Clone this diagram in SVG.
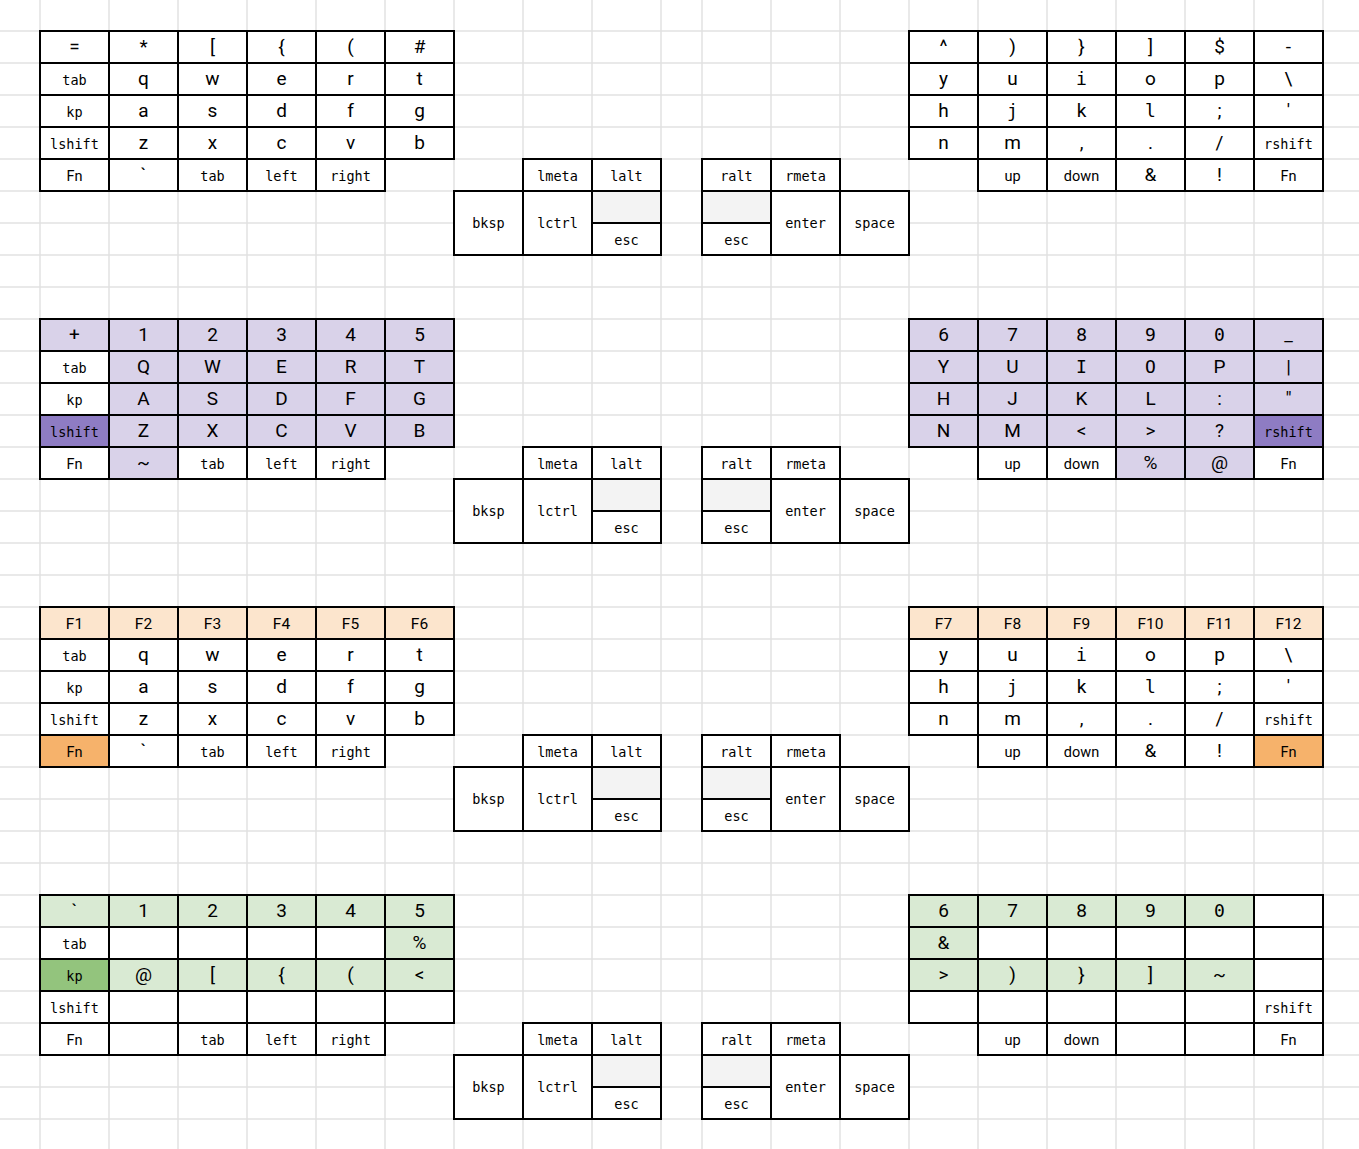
<svg xmlns="http://www.w3.org/2000/svg" width="1359" height="1149" viewBox="0 0 1359 1149">
<style>
.k{fill:#fff;stroke:#000;stroke-width:2}
.pl{fill:#d9d2e9}.pd{fill:#8e7cc3}.ol{fill:#fce5cd}.od{fill:#f6b26b}.gl{fill:#d9ead3}.gd{fill:#93c47d}.gy{fill:#f3f3f3}
text{text-anchor:middle;fill:#000}
.c{font-family:Roboto,"Liberation Sans",sans-serif;font-size:19px}
.m{font-family:"DejaVu Sans Mono","Liberation Mono",monospace;font-size:18px}
.w{font-family:"DejaVu Sans Mono","Liberation Mono",monospace;font-size:13.5px}
.r{font-family:Roboto,"Liberation Sans",sans-serif;font-size:14.5px}
.f{font-family:Roboto,"Liberation Sans",sans-serif;font-size:15.5px}
.grid{stroke:#e2e2e2;stroke-width:1.5;fill:none}
</style>
<rect width="1359" height="1149" fill="#fff"/>
<path class="grid" d="M40 0V1149M109 0V1149M178 0V1149M247 0V1149M316 0V1149M385 0V1149M454 0V1149M523 0V1149M592 0V1149M661 0V1149M702 0V1149M771 0V1149M840 0V1149M909 0V1149M978 0V1149M1047 0V1149M1116 0V1149M1185 0V1149M1254 0V1149M1323 0V1149M0 31H1359M0 63H1359M0 95H1359M0 127H1359M0 159H1359M0 191H1359M0 223H1359M0 255H1359M0 287H1359M0 319H1359M0 351H1359M0 383H1359M0 415H1359M0 447H1359M0 479H1359M0 511H1359M0 543H1359M0 575H1359M0 607H1359M0 639H1359M0 671H1359M0 703H1359M0 735H1359M0 767H1359M0 799H1359M0 831H1359M0 863H1359M0 895H1359M0 927H1359M0 959H1359M0 991H1359M0 1023H1359M0 1055H1359M0 1087H1359M0 1119H1359"/>
<g id="connectors"/>

<!-- Layer 1 -->
<g id="layer1">
<g id="l1-L00"><rect x="40" y="31" width="69" height="32" class="k"/><text x="74.5" y="53" class="c">=</text></g>
<g id="l1-L01"><rect x="109" y="31" width="69" height="32" class="k"/><text x="143.5" y="53" class="c">*</text></g>
<g id="l1-L02"><rect x="178" y="31" width="69" height="32" class="k"/><text x="212.5" y="53" class="c">[</text></g>
<g id="l1-L03"><rect x="247" y="31" width="69" height="32" class="k"/><text x="281.5" y="53" class="c">{</text></g>
<g id="l1-L04"><rect x="316" y="31" width="69" height="32" class="k"/><text x="350.5" y="53" class="c">(</text></g>
<g id="l1-L05"><rect x="385" y="31" width="69" height="32" class="k"/><text x="419.5" y="53" class="c">#</text></g>
<g id="l1-L10"><rect x="40" y="63" width="69" height="32" class="k"/><text x="74.5" y="84.5" class="w">tab</text></g>
<g id="l1-L11"><rect x="109" y="63" width="69" height="32" class="k"/><text x="143.5" y="85" class="c">q</text></g>
<g id="l1-L12"><rect x="178" y="63" width="69" height="32" class="k"/><text x="212.5" y="85" class="c">w</text></g>
<g id="l1-L13"><rect x="247" y="63" width="69" height="32" class="k"/><text x="281.5" y="85" class="c">e</text></g>
<g id="l1-L14"><rect x="316" y="63" width="69" height="32" class="k"/><text x="350.5" y="85" class="c">r</text></g>
<g id="l1-L15"><rect x="385" y="63" width="69" height="32" class="k"/><text x="419.5" y="85" class="c">t</text></g>
<g id="l1-L20"><rect x="40" y="95" width="69" height="32" class="k"/><text x="74.5" y="116.5" class="w">kp</text></g>
<g id="l1-L21"><rect x="109" y="95" width="69" height="32" class="k"/><text x="143.5" y="117" class="c">a</text></g>
<g id="l1-L22"><rect x="178" y="95" width="69" height="32" class="k"/><text x="212.5" y="117" class="c">s</text></g>
<g id="l1-L23"><rect x="247" y="95" width="69" height="32" class="k"/><text x="281.5" y="117" class="c">d</text></g>
<g id="l1-L24"><rect x="316" y="95" width="69" height="32" class="k"/><text x="350.5" y="117" class="c">f</text></g>
<g id="l1-L25"><rect x="385" y="95" width="69" height="32" class="k"/><text x="419.5" y="117" class="c">g</text></g>
<g id="l1-L30"><rect x="40" y="127" width="69" height="32" class="k"/><text x="74.5" y="148.5" class="w">lshift</text></g>
<g id="l1-L31"><rect x="109" y="127" width="69" height="32" class="k"/><text x="143.5" y="149" class="c">z</text></g>
<g id="l1-L32"><rect x="178" y="127" width="69" height="32" class="k"/><text x="212.5" y="149" class="c">x</text></g>
<g id="l1-L33"><rect x="247" y="127" width="69" height="32" class="k"/><text x="281.5" y="149" class="c">c</text></g>
<g id="l1-L34"><rect x="316" y="127" width="69" height="32" class="k"/><text x="350.5" y="149" class="c">v</text></g>
<g id="l1-L35"><rect x="385" y="127" width="69" height="32" class="k"/><text x="419.5" y="149" class="c">b</text></g>
<g id="l1-L40"><rect x="40" y="159" width="69" height="32" class="k"/><text x="74.5" y="180.5" class="r">Fn</text></g>
<g id="l1-L41"><rect x="109" y="159" width="69" height="32" class="k"/><text x="143.5" y="181" class="c">`</text></g>
<g id="l1-L42"><rect x="178" y="159" width="69" height="32" class="k"/><text x="212.5" y="180.5" class="w">tab</text></g>
<g id="l1-L43"><rect x="247" y="159" width="69" height="32" class="k"/><text x="281.5" y="180.5" class="w">left</text></g>
<g id="l1-L44"><rect x="316" y="159" width="69" height="32" class="k"/><text x="350.5" y="180.5" class="w">right</text></g>
<g id="l1-lmeta"><rect x="523" y="159" width="69" height="32" class="k"/><text x="557.5" y="180.5" class="w">lmeta</text></g>
<g id="l1-lalt"><rect x="592" y="159" width="69" height="32" class="k"/><text x="626.5" y="180.5" class="w">lalt</text></g>
<g id="l1-bksp"><rect x="454" y="191" width="69" height="64" class="k"/><text x="488.5" y="228" class="w">bksp</text></g>
<g id="l1-lctrl"><rect x="523" y="191" width="69" height="64" class="k"/><text x="557.5" y="228" class="w">lctrl</text></g>
<g id="l1-lblank"><rect x="592" y="191" width="69" height="32" class="k gy"/></g>
<g id="l1-lesc"><rect x="592" y="223" width="69" height="32" class="k"/><text x="626.5" y="244.5" class="w">esc</text></g>
<g id="l1-ralt"><rect x="702" y="159" width="69" height="32" class="k"/><text x="736.5" y="180.5" class="w">ralt</text></g>
<g id="l1-rmeta"><rect x="771" y="159" width="69" height="32" class="k"/><text x="805.5" y="180.5" class="w">rmeta</text></g>
<g id="l1-rblank"><rect x="702" y="191" width="69" height="32" class="k gy"/></g>
<g id="l1-resc"><rect x="702" y="223" width="69" height="32" class="k"/><text x="736.5" y="244.5" class="w">esc</text></g>
<g id="l1-enter"><rect x="771" y="191" width="69" height="64" class="k"/><text x="805.5" y="228" class="w">enter</text></g>
<g id="l1-space"><rect x="840" y="191" width="69" height="64" class="k"/><text x="874.5" y="228" class="w">space</text></g>
<g id="l1-R00"><rect x="909" y="31" width="69" height="32" class="k"/><text x="943.5" y="53" class="c">^</text></g>
<g id="l1-R01"><rect x="978" y="31" width="69" height="32" class="k"/><text x="1012.5" y="53" class="c">)</text></g>
<g id="l1-R02"><rect x="1047" y="31" width="69" height="32" class="k"/><text x="1081.5" y="53" class="c">}</text></g>
<g id="l1-R03"><rect x="1116" y="31" width="69" height="32" class="k"/><text x="1150.5" y="53" class="c">]</text></g>
<g id="l1-R04"><rect x="1185" y="31" width="69" height="32" class="k"/><text x="1219.5" y="53" class="c">$</text></g>
<g id="l1-R05"><rect x="1254" y="31" width="69" height="32" class="k"/><text x="1288.5" y="53" class="c">-</text></g>
<g id="l1-R10"><rect x="909" y="63" width="69" height="32" class="k"/><text x="943.5" y="85" class="c">y</text></g>
<g id="l1-R11"><rect x="978" y="63" width="69" height="32" class="k"/><text x="1012.5" y="85" class="c">u</text></g>
<g id="l1-R12"><rect x="1047" y="63" width="69" height="32" class="k"/><text x="1081.5" y="85" class="m">i</text></g>
<g id="l1-R13"><rect x="1116" y="63" width="69" height="32" class="k"/><text x="1150.5" y="85" class="c">o</text></g>
<g id="l1-R14"><rect x="1185" y="63" width="69" height="32" class="k"/><text x="1219.5" y="85" class="c">p</text></g>
<g id="l1-R15"><rect x="1254" y="63" width="69" height="32" class="k"/><text x="1288.5" y="85" class="c">\</text></g>
<g id="l1-R20"><rect x="909" y="95" width="69" height="32" class="k"/><text x="943.5" y="117" class="c">h</text></g>
<g id="l1-R21"><rect x="978" y="95" width="69" height="32" class="k"/><text x="1012.5" y="117" class="m">j</text></g>
<g id="l1-R22"><rect x="1047" y="95" width="69" height="32" class="k"/><text x="1081.5" y="117" class="c">k</text></g>
<g id="l1-R23"><rect x="1116" y="95" width="69" height="32" class="k"/><text x="1150.5" y="117" class="m">l</text></g>
<g id="l1-R24"><rect x="1185" y="95" width="69" height="32" class="k"/><text x="1219.5" y="117" class="c">;</text></g>
<g id="l1-R25"><rect x="1254" y="95" width="69" height="32" class="k"/><text x="1288.5" y="117" class="c">'</text></g>
<g id="l1-R30"><rect x="909" y="127" width="69" height="32" class="k"/><text x="943.5" y="149" class="c">n</text></g>
<g id="l1-R31"><rect x="978" y="127" width="69" height="32" class="k"/><text x="1012.5" y="149" class="c">m</text></g>
<g id="l1-R32"><rect x="1047" y="127" width="69" height="32" class="k"/><text x="1081.5" y="149" class="c">,</text></g>
<g id="l1-R33"><rect x="1116" y="127" width="69" height="32" class="k"/><text x="1150.5" y="149" class="c">.</text></g>
<g id="l1-R34"><rect x="1185" y="127" width="69" height="32" class="k"/><text x="1219.5" y="149" class="c">/</text></g>
<g id="l1-R35"><rect x="1254" y="127" width="69" height="32" class="k"/><text x="1288.5" y="148.5" class="w">rshift</text></g>
<g id="l1-R41"><rect x="978" y="159" width="69" height="32" class="k"/><text x="1012.5" y="180.5" class="r">up</text></g>
<g id="l1-R42"><rect x="1047" y="159" width="69" height="32" class="k"/><text x="1081.5" y="180.5" class="r">down</text></g>
<g id="l1-R43"><rect x="1116" y="159" width="69" height="32" class="k"/><text x="1150.5" y="181" class="c">&amp;</text></g>
<g id="l1-R44"><rect x="1185" y="159" width="69" height="32" class="k"/><text x="1219.5" y="181" class="c">!</text></g>
<g id="l1-R45"><rect x="1254" y="159" width="69" height="32" class="k"/><text x="1288.5" y="180.5" class="r">Fn</text></g>
</g>

<!-- Layer 2 -->
<g id="layer2" transform="translate(0,288)">
<g id="l2-L00"><rect x="40" y="31" width="69" height="32" class="k pl"/><text x="74.5" y="53" class="c">+</text></g>
<g id="l2-L01"><rect x="109" y="31" width="69" height="32" class="k pl"/><text x="143.5" y="53" class="c">1</text></g>
<g id="l2-L02"><rect x="178" y="31" width="69" height="32" class="k pl"/><text x="212.5" y="53" class="c">2</text></g>
<g id="l2-L03"><rect x="247" y="31" width="69" height="32" class="k pl"/><text x="281.5" y="53" class="c">3</text></g>
<g id="l2-L04"><rect x="316" y="31" width="69" height="32" class="k pl"/><text x="350.5" y="53" class="c">4</text></g>
<g id="l2-L05"><rect x="385" y="31" width="69" height="32" class="k pl"/><text x="419.5" y="53" class="c">5</text></g>
<g id="l2-L10"><rect x="40" y="63" width="69" height="32" class="k"/><text x="74.5" y="84.5" class="w">tab</text></g>
<g id="l2-L11"><rect x="109" y="63" width="69" height="32" class="k pl"/><text x="143.5" y="85" class="c">Q</text></g>
<g id="l2-L12"><rect x="178" y="63" width="69" height="32" class="k pl"/><text x="212.5" y="85" class="c">W</text></g>
<g id="l2-L13"><rect x="247" y="63" width="69" height="32" class="k pl"/><text x="281.5" y="85" class="c">E</text></g>
<g id="l2-L14"><rect x="316" y="63" width="69" height="32" class="k pl"/><text x="350.5" y="85" class="c">R</text></g>
<g id="l2-L15"><rect x="385" y="63" width="69" height="32" class="k pl"/><text x="419.5" y="85" class="c">T</text></g>
<g id="l2-L20"><rect x="40" y="95" width="69" height="32" class="k"/><text x="74.5" y="116.5" class="w">kp</text></g>
<g id="l2-L21"><rect x="109" y="95" width="69" height="32" class="k pl"/><text x="143.5" y="117" class="c">A</text></g>
<g id="l2-L22"><rect x="178" y="95" width="69" height="32" class="k pl"/><text x="212.5" y="117" class="c">S</text></g>
<g id="l2-L23"><rect x="247" y="95" width="69" height="32" class="k pl"/><text x="281.5" y="117" class="c">D</text></g>
<g id="l2-L24"><rect x="316" y="95" width="69" height="32" class="k pl"/><text x="350.5" y="117" class="c">F</text></g>
<g id="l2-L25"><rect x="385" y="95" width="69" height="32" class="k pl"/><text x="419.5" y="117" class="c">G</text></g>
<g id="l2-L30"><rect x="40" y="127" width="69" height="32" class="k pd"/><text x="74.5" y="148.5" class="w">lshift</text></g>
<g id="l2-L31"><rect x="109" y="127" width="69" height="32" class="k pl"/><text x="143.5" y="149" class="c">Z</text></g>
<g id="l2-L32"><rect x="178" y="127" width="69" height="32" class="k pl"/><text x="212.5" y="149" class="c">X</text></g>
<g id="l2-L33"><rect x="247" y="127" width="69" height="32" class="k pl"/><text x="281.5" y="149" class="c">C</text></g>
<g id="l2-L34"><rect x="316" y="127" width="69" height="32" class="k pl"/><text x="350.5" y="149" class="c">V</text></g>
<g id="l2-L35"><rect x="385" y="127" width="69" height="32" class="k pl"/><text x="419.5" y="149" class="c">B</text></g>
<g id="l2-L40"><rect x="40" y="159" width="69" height="32" class="k"/><text x="74.5" y="180.5" class="r">Fn</text></g>
<g id="l2-L41"><rect x="109" y="159" width="69" height="32" class="k pl"/><text x="143.5" y="181" class="c">~</text></g>
<g id="l2-L42"><rect x="178" y="159" width="69" height="32" class="k"/><text x="212.5" y="180.5" class="w">tab</text></g>
<g id="l2-L43"><rect x="247" y="159" width="69" height="32" class="k"/><text x="281.5" y="180.5" class="w">left</text></g>
<g id="l2-L44"><rect x="316" y="159" width="69" height="32" class="k"/><text x="350.5" y="180.5" class="w">right</text></g>
<g id="l2-lmeta"><rect x="523" y="159" width="69" height="32" class="k"/><text x="557.5" y="180.5" class="w">lmeta</text></g>
<g id="l2-lalt"><rect x="592" y="159" width="69" height="32" class="k"/><text x="626.5" y="180.5" class="w">lalt</text></g>
<g id="l2-bksp"><rect x="454" y="191" width="69" height="64" class="k"/><text x="488.5" y="228" class="w">bksp</text></g>
<g id="l2-lctrl"><rect x="523" y="191" width="69" height="64" class="k"/><text x="557.5" y="228" class="w">lctrl</text></g>
<g id="l2-lblank"><rect x="592" y="191" width="69" height="32" class="k gy"/></g>
<g id="l2-lesc"><rect x="592" y="223" width="69" height="32" class="k"/><text x="626.5" y="244.5" class="w">esc</text></g>
<g id="l2-ralt"><rect x="702" y="159" width="69" height="32" class="k"/><text x="736.5" y="180.5" class="w">ralt</text></g>
<g id="l2-rmeta"><rect x="771" y="159" width="69" height="32" class="k"/><text x="805.5" y="180.5" class="w">rmeta</text></g>
<g id="l2-rblank"><rect x="702" y="191" width="69" height="32" class="k gy"/></g>
<g id="l2-resc"><rect x="702" y="223" width="69" height="32" class="k"/><text x="736.5" y="244.5" class="w">esc</text></g>
<g id="l2-enter"><rect x="771" y="191" width="69" height="64" class="k"/><text x="805.5" y="228" class="w">enter</text></g>
<g id="l2-space"><rect x="840" y="191" width="69" height="64" class="k"/><text x="874.5" y="228" class="w">space</text></g>
<g id="l2-R00"><rect x="909" y="31" width="69" height="32" class="k pl"/><text x="943.5" y="53" class="c">6</text></g>
<g id="l2-R01"><rect x="978" y="31" width="69" height="32" class="k pl"/><text x="1012.5" y="53" class="c">7</text></g>
<g id="l2-R02"><rect x="1047" y="31" width="69" height="32" class="k pl"/><text x="1081.5" y="53" class="c">8</text></g>
<g id="l2-R03"><rect x="1116" y="31" width="69" height="32" class="k pl"/><text x="1150.5" y="53" class="m">9</text></g>
<g id="l2-R04"><rect x="1185" y="31" width="69" height="32" class="k pl"/><text x="1219.5" y="53" class="m">0</text></g>
<g id="l2-R05"><rect x="1254" y="31" width="69" height="32" class="k pl"/><text x="1288.5" y="53" class="c">_</text></g>
<g id="l2-R10"><rect x="909" y="63" width="69" height="32" class="k pl"/><text x="943.5" y="85" class="c">Y</text></g>
<g id="l2-R11"><rect x="978" y="63" width="69" height="32" class="k pl"/><text x="1012.5" y="85" class="c">U</text></g>
<g id="l2-R12"><rect x="1047" y="63" width="69" height="32" class="k pl"/><text x="1081.5" y="85" class="m">I</text></g>
<g id="l2-R13"><rect x="1116" y="63" width="69" height="32" class="k pl"/><text x="1150.5" y="85" class="m">O</text></g>
<g id="l2-R14"><rect x="1185" y="63" width="69" height="32" class="k pl"/><text x="1219.5" y="85" class="c">P</text></g>
<g id="l2-R15"><rect x="1254" y="63" width="69" height="32" class="k pl"/><text x="1288.5" y="85" class="c">|</text></g>
<g id="l2-R20"><rect x="909" y="95" width="69" height="32" class="k pl"/><text x="943.5" y="117" class="c">H</text></g>
<g id="l2-R21"><rect x="978" y="95" width="69" height="32" class="k pl"/><text x="1012.5" y="117" class="c">J</text></g>
<g id="l2-R22"><rect x="1047" y="95" width="69" height="32" class="k pl"/><text x="1081.5" y="117" class="c">K</text></g>
<g id="l2-R23"><rect x="1116" y="95" width="69" height="32" class="k pl"/><text x="1150.5" y="117" class="c">L</text></g>
<g id="l2-R24"><rect x="1185" y="95" width="69" height="32" class="k pl"/><text x="1219.5" y="117" class="c">:</text></g>
<g id="l2-R25"><rect x="1254" y="95" width="69" height="32" class="k pl"/><text x="1288.5" y="117" class="c">"</text></g>
<g id="l2-R30"><rect x="909" y="127" width="69" height="32" class="k pl"/><text x="943.5" y="149" class="c">N</text></g>
<g id="l2-R31"><rect x="978" y="127" width="69" height="32" class="k pl"/><text x="1012.5" y="149" class="c">M</text></g>
<g id="l2-R32"><rect x="1047" y="127" width="69" height="32" class="k pl"/><text x="1081.5" y="149" class="c">&lt;</text></g>
<g id="l2-R33"><rect x="1116" y="127" width="69" height="32" class="k pl"/><text x="1150.5" y="149" class="c">&gt;</text></g>
<g id="l2-R34"><rect x="1185" y="127" width="69" height="32" class="k pl"/><text x="1219.5" y="149" class="c">?</text></g>
<g id="l2-R35"><rect x="1254" y="127" width="69" height="32" class="k pd"/><text x="1288.5" y="148.5" class="w">rshift</text></g>
<g id="l2-R41"><rect x="978" y="159" width="69" height="32" class="k"/><text x="1012.5" y="180.5" class="r">up</text></g>
<g id="l2-R42"><rect x="1047" y="159" width="69" height="32" class="k"/><text x="1081.5" y="180.5" class="r">down</text></g>
<g id="l2-R43"><rect x="1116" y="159" width="69" height="32" class="k pl"/><text x="1150.5" y="181" class="c">%</text></g>
<g id="l2-R44"><rect x="1185" y="159" width="69" height="32" class="k pl"/><text x="1219.5" y="181" class="c">@</text></g>
<g id="l2-R45"><rect x="1254" y="159" width="69" height="32" class="k"/><text x="1288.5" y="180.5" class="r">Fn</text></g>
</g>

<!-- Layer 3 -->
<g id="layer3" transform="translate(0,576)">
<g id="l3-L00"><rect x="40" y="31" width="69" height="32" class="k ol"/><text x="74.5" y="52.5" class="f">F1</text></g>
<g id="l3-L01"><rect x="109" y="31" width="69" height="32" class="k ol"/><text x="143.5" y="52.5" class="f">F2</text></g>
<g id="l3-L02"><rect x="178" y="31" width="69" height="32" class="k ol"/><text x="212.5" y="52.5" class="f">F3</text></g>
<g id="l3-L03"><rect x="247" y="31" width="69" height="32" class="k ol"/><text x="281.5" y="52.5" class="f">F4</text></g>
<g id="l3-L04"><rect x="316" y="31" width="69" height="32" class="k ol"/><text x="350.5" y="52.5" class="f">F5</text></g>
<g id="l3-L05"><rect x="385" y="31" width="69" height="32" class="k ol"/><text x="419.5" y="52.5" class="f">F6</text></g>
<g id="l3-L10"><rect x="40" y="63" width="69" height="32" class="k"/><text x="74.5" y="84.5" class="w">tab</text></g>
<g id="l3-L11"><rect x="109" y="63" width="69" height="32" class="k"/><text x="143.5" y="85" class="c">q</text></g>
<g id="l3-L12"><rect x="178" y="63" width="69" height="32" class="k"/><text x="212.5" y="85" class="c">w</text></g>
<g id="l3-L13"><rect x="247" y="63" width="69" height="32" class="k"/><text x="281.5" y="85" class="c">e</text></g>
<g id="l3-L14"><rect x="316" y="63" width="69" height="32" class="k"/><text x="350.5" y="85" class="c">r</text></g>
<g id="l3-L15"><rect x="385" y="63" width="69" height="32" class="k"/><text x="419.5" y="85" class="c">t</text></g>
<g id="l3-L20"><rect x="40" y="95" width="69" height="32" class="k"/><text x="74.5" y="116.5" class="w">kp</text></g>
<g id="l3-L21"><rect x="109" y="95" width="69" height="32" class="k"/><text x="143.5" y="117" class="c">a</text></g>
<g id="l3-L22"><rect x="178" y="95" width="69" height="32" class="k"/><text x="212.5" y="117" class="c">s</text></g>
<g id="l3-L23"><rect x="247" y="95" width="69" height="32" class="k"/><text x="281.5" y="117" class="c">d</text></g>
<g id="l3-L24"><rect x="316" y="95" width="69" height="32" class="k"/><text x="350.5" y="117" class="c">f</text></g>
<g id="l3-L25"><rect x="385" y="95" width="69" height="32" class="k"/><text x="419.5" y="117" class="c">g</text></g>
<g id="l3-L30"><rect x="40" y="127" width="69" height="32" class="k"/><text x="74.5" y="148.5" class="w">lshift</text></g>
<g id="l3-L31"><rect x="109" y="127" width="69" height="32" class="k"/><text x="143.5" y="149" class="c">z</text></g>
<g id="l3-L32"><rect x="178" y="127" width="69" height="32" class="k"/><text x="212.5" y="149" class="c">x</text></g>
<g id="l3-L33"><rect x="247" y="127" width="69" height="32" class="k"/><text x="281.5" y="149" class="c">c</text></g>
<g id="l3-L34"><rect x="316" y="127" width="69" height="32" class="k"/><text x="350.5" y="149" class="c">v</text></g>
<g id="l3-L35"><rect x="385" y="127" width="69" height="32" class="k"/><text x="419.5" y="149" class="c">b</text></g>
<g id="l3-L40"><rect x="40" y="159" width="69" height="32" class="k od"/><text x="74.5" y="180.5" class="r">Fn</text></g>
<g id="l3-L41"><rect x="109" y="159" width="69" height="32" class="k"/><text x="143.5" y="181" class="c">`</text></g>
<g id="l3-L42"><rect x="178" y="159" width="69" height="32" class="k"/><text x="212.5" y="180.5" class="w">tab</text></g>
<g id="l3-L43"><rect x="247" y="159" width="69" height="32" class="k"/><text x="281.5" y="180.5" class="w">left</text></g>
<g id="l3-L44"><rect x="316" y="159" width="69" height="32" class="k"/><text x="350.5" y="180.5" class="w">right</text></g>
<g id="l3-lmeta"><rect x="523" y="159" width="69" height="32" class="k"/><text x="557.5" y="180.5" class="w">lmeta</text></g>
<g id="l3-lalt"><rect x="592" y="159" width="69" height="32" class="k"/><text x="626.5" y="180.5" class="w">lalt</text></g>
<g id="l3-bksp"><rect x="454" y="191" width="69" height="64" class="k"/><text x="488.5" y="228" class="w">bksp</text></g>
<g id="l3-lctrl"><rect x="523" y="191" width="69" height="64" class="k"/><text x="557.5" y="228" class="w">lctrl</text></g>
<g id="l3-lblank"><rect x="592" y="191" width="69" height="32" class="k gy"/></g>
<g id="l3-lesc"><rect x="592" y="223" width="69" height="32" class="k"/><text x="626.5" y="244.5" class="w">esc</text></g>
<g id="l3-ralt"><rect x="702" y="159" width="69" height="32" class="k"/><text x="736.5" y="180.5" class="w">ralt</text></g>
<g id="l3-rmeta"><rect x="771" y="159" width="69" height="32" class="k"/><text x="805.5" y="180.5" class="w">rmeta</text></g>
<g id="l3-rblank"><rect x="702" y="191" width="69" height="32" class="k gy"/></g>
<g id="l3-resc"><rect x="702" y="223" width="69" height="32" class="k"/><text x="736.5" y="244.5" class="w">esc</text></g>
<g id="l3-enter"><rect x="771" y="191" width="69" height="64" class="k"/><text x="805.5" y="228" class="w">enter</text></g>
<g id="l3-space"><rect x="840" y="191" width="69" height="64" class="k"/><text x="874.5" y="228" class="w">space</text></g>
<g id="l3-R00"><rect x="909" y="31" width="69" height="32" class="k ol"/><text x="943.5" y="52.5" class="f">F7</text></g>
<g id="l3-R01"><rect x="978" y="31" width="69" height="32" class="k ol"/><text x="1012.5" y="52.5" class="f">F8</text></g>
<g id="l3-R02"><rect x="1047" y="31" width="69" height="32" class="k ol"/><text x="1081.5" y="52.5" class="f">F9</text></g>
<g id="l3-R03"><rect x="1116" y="31" width="69" height="32" class="k ol"/><text x="1150.5" y="52.5" class="f">F10</text></g>
<g id="l3-R04"><rect x="1185" y="31" width="69" height="32" class="k ol"/><text x="1219.5" y="52.5" class="f">F11</text></g>
<g id="l3-R05"><rect x="1254" y="31" width="69" height="32" class="k ol"/><text x="1288.5" y="52.5" class="f">F12</text></g>
<g id="l3-R10"><rect x="909" y="63" width="69" height="32" class="k"/><text x="943.5" y="85" class="c">y</text></g>
<g id="l3-R11"><rect x="978" y="63" width="69" height="32" class="k"/><text x="1012.5" y="85" class="c">u</text></g>
<g id="l3-R12"><rect x="1047" y="63" width="69" height="32" class="k"/><text x="1081.5" y="85" class="m">i</text></g>
<g id="l3-R13"><rect x="1116" y="63" width="69" height="32" class="k"/><text x="1150.5" y="85" class="c">o</text></g>
<g id="l3-R14"><rect x="1185" y="63" width="69" height="32" class="k"/><text x="1219.5" y="85" class="c">p</text></g>
<g id="l3-R15"><rect x="1254" y="63" width="69" height="32" class="k"/><text x="1288.5" y="85" class="c">\</text></g>
<g id="l3-R20"><rect x="909" y="95" width="69" height="32" class="k"/><text x="943.5" y="117" class="c">h</text></g>
<g id="l3-R21"><rect x="978" y="95" width="69" height="32" class="k"/><text x="1012.5" y="117" class="m">j</text></g>
<g id="l3-R22"><rect x="1047" y="95" width="69" height="32" class="k"/><text x="1081.5" y="117" class="c">k</text></g>
<g id="l3-R23"><rect x="1116" y="95" width="69" height="32" class="k"/><text x="1150.5" y="117" class="m">l</text></g>
<g id="l3-R24"><rect x="1185" y="95" width="69" height="32" class="k"/><text x="1219.5" y="117" class="c">;</text></g>
<g id="l3-R25"><rect x="1254" y="95" width="69" height="32" class="k"/><text x="1288.5" y="117" class="c">'</text></g>
<g id="l3-R30"><rect x="909" y="127" width="69" height="32" class="k"/><text x="943.5" y="149" class="c">n</text></g>
<g id="l3-R31"><rect x="978" y="127" width="69" height="32" class="k"/><text x="1012.5" y="149" class="c">m</text></g>
<g id="l3-R32"><rect x="1047" y="127" width="69" height="32" class="k"/><text x="1081.5" y="149" class="c">,</text></g>
<g id="l3-R33"><rect x="1116" y="127" width="69" height="32" class="k"/><text x="1150.5" y="149" class="c">.</text></g>
<g id="l3-R34"><rect x="1185" y="127" width="69" height="32" class="k"/><text x="1219.5" y="149" class="c">/</text></g>
<g id="l3-R35"><rect x="1254" y="127" width="69" height="32" class="k"/><text x="1288.5" y="148.5" class="w">rshift</text></g>
<g id="l3-R41"><rect x="978" y="159" width="69" height="32" class="k"/><text x="1012.5" y="180.5" class="r">up</text></g>
<g id="l3-R42"><rect x="1047" y="159" width="69" height="32" class="k"/><text x="1081.5" y="180.5" class="r">down</text></g>
<g id="l3-R43"><rect x="1116" y="159" width="69" height="32" class="k"/><text x="1150.5" y="181" class="c">&amp;</text></g>
<g id="l3-R44"><rect x="1185" y="159" width="69" height="32" class="k"/><text x="1219.5" y="181" class="c">!</text></g>
<g id="l3-R45"><rect x="1254" y="159" width="69" height="32" class="k od"/><text x="1288.5" y="180.5" class="r">Fn</text></g>
</g>

<!-- Layer 4 -->
<g id="layer4" transform="translate(0,864)">
<g id="l4-L00"><rect x="40" y="31" width="69" height="32" class="k gl"/><text x="74.5" y="53" class="c">`</text></g>
<g id="l4-L01"><rect x="109" y="31" width="69" height="32" class="k gl"/><text x="143.5" y="53" class="c">1</text></g>
<g id="l4-L02"><rect x="178" y="31" width="69" height="32" class="k gl"/><text x="212.5" y="53" class="c">2</text></g>
<g id="l4-L03"><rect x="247" y="31" width="69" height="32" class="k gl"/><text x="281.5" y="53" class="c">3</text></g>
<g id="l4-L04"><rect x="316" y="31" width="69" height="32" class="k gl"/><text x="350.5" y="53" class="c">4</text></g>
<g id="l4-L05"><rect x="385" y="31" width="69" height="32" class="k gl"/><text x="419.5" y="53" class="c">5</text></g>
<g id="l4-L10"><rect x="40" y="63" width="69" height="32" class="k"/><text x="74.5" y="84.5" class="w">tab</text></g>
<g id="l4-L11"><rect x="109" y="63" width="69" height="32" class="k"/></g>
<g id="l4-L12"><rect x="178" y="63" width="69" height="32" class="k"/></g>
<g id="l4-L13"><rect x="247" y="63" width="69" height="32" class="k"/></g>
<g id="l4-L14"><rect x="316" y="63" width="69" height="32" class="k"/></g>
<g id="l4-L15"><rect x="385" y="63" width="69" height="32" class="k gl"/><text x="419.5" y="85" class="c">%</text></g>
<g id="l4-L20"><rect x="40" y="95" width="69" height="32" class="k gd"/><text x="74.5" y="116.5" class="w">kp</text></g>
<g id="l4-L21"><rect x="109" y="95" width="69" height="32" class="k gl"/><text x="143.5" y="117" class="c">@</text></g>
<g id="l4-L22"><rect x="178" y="95" width="69" height="32" class="k gl"/><text x="212.5" y="117" class="c">[</text></g>
<g id="l4-L23"><rect x="247" y="95" width="69" height="32" class="k gl"/><text x="281.5" y="117" class="c">{</text></g>
<g id="l4-L24"><rect x="316" y="95" width="69" height="32" class="k gl"/><text x="350.5" y="117" class="c">(</text></g>
<g id="l4-L25"><rect x="385" y="95" width="69" height="32" class="k gl"/><text x="419.5" y="117" class="c">&lt;</text></g>
<g id="l4-L30"><rect x="40" y="127" width="69" height="32" class="k"/><text x="74.5" y="148.5" class="w">lshift</text></g>
<g id="l4-L31"><rect x="109" y="127" width="69" height="32" class="k"/></g>
<g id="l4-L32"><rect x="178" y="127" width="69" height="32" class="k"/></g>
<g id="l4-L33"><rect x="247" y="127" width="69" height="32" class="k"/></g>
<g id="l4-L34"><rect x="316" y="127" width="69" height="32" class="k"/></g>
<g id="l4-L35"><rect x="385" y="127" width="69" height="32" class="k"/></g>
<g id="l4-L40"><rect x="40" y="159" width="69" height="32" class="k"/><text x="74.5" y="180.5" class="r">Fn</text></g>
<g id="l4-L41"><rect x="109" y="159" width="69" height="32" class="k"/></g>
<g id="l4-L42"><rect x="178" y="159" width="69" height="32" class="k"/><text x="212.5" y="180.5" class="w">tab</text></g>
<g id="l4-L43"><rect x="247" y="159" width="69" height="32" class="k"/><text x="281.5" y="180.5" class="w">left</text></g>
<g id="l4-L44"><rect x="316" y="159" width="69" height="32" class="k"/><text x="350.5" y="180.5" class="w">right</text></g>
<g id="l4-lmeta"><rect x="523" y="159" width="69" height="32" class="k"/><text x="557.5" y="180.5" class="w">lmeta</text></g>
<g id="l4-lalt"><rect x="592" y="159" width="69" height="32" class="k"/><text x="626.5" y="180.5" class="w">lalt</text></g>
<g id="l4-bksp"><rect x="454" y="191" width="69" height="64" class="k"/><text x="488.5" y="228" class="w">bksp</text></g>
<g id="l4-lctrl"><rect x="523" y="191" width="69" height="64" class="k"/><text x="557.5" y="228" class="w">lctrl</text></g>
<g id="l4-lblank"><rect x="592" y="191" width="69" height="32" class="k gy"/></g>
<g id="l4-lesc"><rect x="592" y="223" width="69" height="32" class="k"/><text x="626.5" y="244.5" class="w">esc</text></g>
<g id="l4-ralt"><rect x="702" y="159" width="69" height="32" class="k"/><text x="736.5" y="180.5" class="w">ralt</text></g>
<g id="l4-rmeta"><rect x="771" y="159" width="69" height="32" class="k"/><text x="805.5" y="180.5" class="w">rmeta</text></g>
<g id="l4-rblank"><rect x="702" y="191" width="69" height="32" class="k gy"/></g>
<g id="l4-resc"><rect x="702" y="223" width="69" height="32" class="k"/><text x="736.5" y="244.5" class="w">esc</text></g>
<g id="l4-enter"><rect x="771" y="191" width="69" height="64" class="k"/><text x="805.5" y="228" class="w">enter</text></g>
<g id="l4-space"><rect x="840" y="191" width="69" height="64" class="k"/><text x="874.5" y="228" class="w">space</text></g>
<g id="l4-R00"><rect x="909" y="31" width="69" height="32" class="k gl"/><text x="943.5" y="53" class="c">6</text></g>
<g id="l4-R01"><rect x="978" y="31" width="69" height="32" class="k gl"/><text x="1012.5" y="53" class="c">7</text></g>
<g id="l4-R02"><rect x="1047" y="31" width="69" height="32" class="k gl"/><text x="1081.5" y="53" class="c">8</text></g>
<g id="l4-R03"><rect x="1116" y="31" width="69" height="32" class="k gl"/><text x="1150.5" y="53" class="m">9</text></g>
<g id="l4-R04"><rect x="1185" y="31" width="69" height="32" class="k gl"/><text x="1219.5" y="53" class="m">0</text></g>
<g id="l4-R05"><rect x="1254" y="31" width="69" height="32" class="k"/></g>
<g id="l4-R10"><rect x="909" y="63" width="69" height="32" class="k gl"/><text x="943.5" y="85" class="c">&amp;</text></g>
<g id="l4-R11"><rect x="978" y="63" width="69" height="32" class="k"/></g>
<g id="l4-R12"><rect x="1047" y="63" width="69" height="32" class="k"/></g>
<g id="l4-R13"><rect x="1116" y="63" width="69" height="32" class="k"/></g>
<g id="l4-R14"><rect x="1185" y="63" width="69" height="32" class="k"/></g>
<g id="l4-R15"><rect x="1254" y="63" width="69" height="32" class="k"/></g>
<g id="l4-R20"><rect x="909" y="95" width="69" height="32" class="k gl"/><text x="943.5" y="117" class="c">&gt;</text></g>
<g id="l4-R21"><rect x="978" y="95" width="69" height="32" class="k gl"/><text x="1012.5" y="117" class="c">)</text></g>
<g id="l4-R22"><rect x="1047" y="95" width="69" height="32" class="k gl"/><text x="1081.5" y="117" class="c">}</text></g>
<g id="l4-R23"><rect x="1116" y="95" width="69" height="32" class="k gl"/><text x="1150.5" y="117" class="c">]</text></g>
<g id="l4-R24"><rect x="1185" y="95" width="69" height="32" class="k gl"/><text x="1219.5" y="117" class="c">~</text></g>
<g id="l4-R25"><rect x="1254" y="95" width="69" height="32" class="k"/></g>
<g id="l4-R30"><rect x="909" y="127" width="69" height="32" class="k"/></g>
<g id="l4-R31"><rect x="978" y="127" width="69" height="32" class="k"/></g>
<g id="l4-R32"><rect x="1047" y="127" width="69" height="32" class="k"/></g>
<g id="l4-R33"><rect x="1116" y="127" width="69" height="32" class="k"/></g>
<g id="l4-R34"><rect x="1185" y="127" width="69" height="32" class="k"/></g>
<g id="l4-R35"><rect x="1254" y="127" width="69" height="32" class="k"/><text x="1288.5" y="148.5" class="w">rshift</text></g>
<g id="l4-R41"><rect x="978" y="159" width="69" height="32" class="k"/><text x="1012.5" y="180.5" class="r">up</text></g>
<g id="l4-R42"><rect x="1047" y="159" width="69" height="32" class="k"/><text x="1081.5" y="180.5" class="r">down</text></g>
<g id="l4-R43"><rect x="1116" y="159" width="69" height="32" class="k"/></g>
<g id="l4-R44"><rect x="1185" y="159" width="69" height="32" class="k"/></g>
<g id="l4-R45"><rect x="1254" y="159" width="69" height="32" class="k"/><text x="1288.5" y="180.5" class="r">Fn</text></g>
</g>
</svg>
